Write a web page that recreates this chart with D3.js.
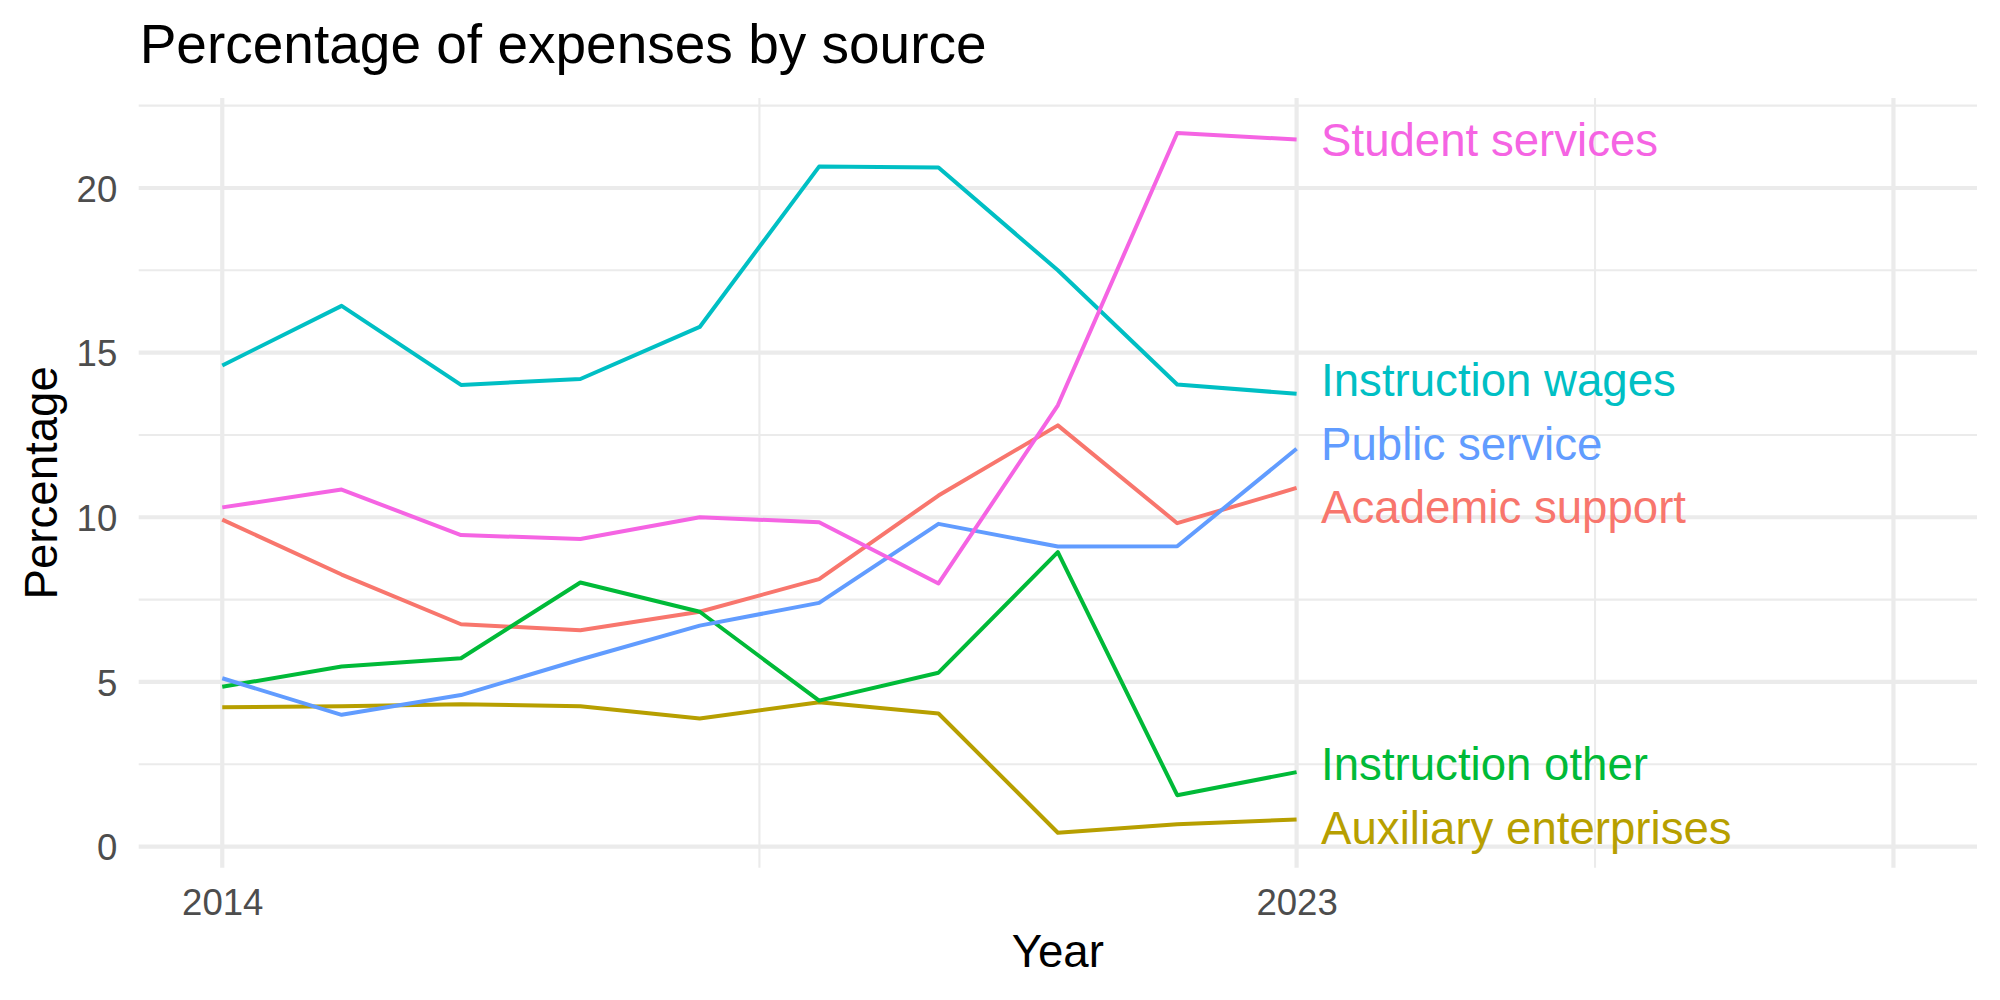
<!DOCTYPE html>
<html>
<head>
<meta charset="utf-8">
<script src="https://cdn.jsdelivr.net/npm/d3@7"></script>
<style>
  html, body { margin: 0; padding: 0; background: #ffffff; }
  svg { display: block; font-family: "Liberation Sans", Arial, Helvetica, sans-serif; }
</style>
</head>
<body>
<svg id="chart" width="2000" height="1000"></svg>
<script>
// ---------------- Data ----------------
const years = [2014, 2015, 2016, 2017, 2018, 2019, 2020, 2021, 2022, 2023];
const seriesNames = ["Academic support", "Auxiliary enterprises", "Instruction other",
                     "Instruction wages", "Public service", "Student services"];
const academicSupport      = [9.93, 8.26, 6.75, 6.57, 7.13, 8.12, 10.66, 12.79, 9.82, 10.89];
const auxiliaryEnterprises = [4.23, 4.26, 4.32, 4.26, 3.89, 4.38, 4.04, 0.42, 0.68, 0.82];
const instructionOther     = [4.85, 5.47, 5.72, 8.02, 7.13, 4.43, 5.28, 8.94, 1.56, 2.26];
const instructionWages     = [14.61, 16.42, 14.02, 14.20, 15.78, 20.65, 20.62, 17.50, 14.03, 13.75];
const publicService        = [5.11, 4.00, 4.60, 5.68, 6.71, 7.40, 9.80, 9.11, 9.12, 12.08];
const studentServices      = [10.30, 10.84, 9.46, 9.34, 10.00, 9.85, 7.99, 13.40, 21.67, 21.47];
const seriesColors = ["#F8766D", "#B79F00", "#00BA38", "#00BFC4", "#619CFF", "#F564E3"];

const xTickValues = [2014, 2023];
const xMajorGrid = [2014, 2023, 2028];
const xMinorGrid = [2018.5, 2025.5];
const xLimits = [2014, 2028];
const yTickValues = [0, 5, 10, 15, 20];
const yMinorGrid = [2.5, 7.5, 12.5, 17.5, 22.5];

const titleText = "Percentage of expenses by source";
const xTitle = "Year";
const yTitle = "Percentage";

// ---------------- Layout ----------------
const W = 2000, H = 1000;
const panel = { left: 138.7, right: 1977, top: 98, bottom: 867.7 };

const allSeries = [academicSupport, auxiliaryEnterprises, instructionOther,
                   instructionWages, publicService, studentServices];
const series = seriesNames.map((name, i) => ({
  name, color: seriesColors[i],
  values: years.map((yr, j) => ({ year: yr, value: allSeries[i][j] }))
}));

const xSpan = xLimits[1] - xLimits[0];
const x = d3.scaleLinear()
  .domain([xLimits[0] - 0.05 * xSpan, xLimits[1] + 0.05 * xSpan])
  .range([panel.left, panel.right]);

const allVals = allSeries.flat();
const [yMin, yMax] = d3.extent(allVals);
const ySpan = yMax - yMin;
const y = d3.scaleLinear()
  .domain([yMin - 0.05 * ySpan, yMax + 0.05 * ySpan])
  .range([panel.bottom, panel.top]);

const svg = d3.select("#chart");
svg.append("rect").attr("width", W).attr("height", H).attr("fill", "#ffffff");

const grid = svg.append("g");
const gridColor = "#EBEBEB";
// minor gridlines
grid.selectAll(".yminor").data(yMinorGrid).enter().append("line")
  .attr("x1", panel.left).attr("x2", panel.right)
  .attr("y1", d => y(d)).attr("y2", d => y(d))
  .attr("stroke", gridColor).attr("stroke-width", 2.1);
grid.selectAll(".xminor").data(xMinorGrid).enter().append("line")
  .attr("y1", panel.top).attr("y2", panel.bottom)
  .attr("x1", d => x(d)).attr("x2", d => x(d))
  .attr("stroke", gridColor).attr("stroke-width", 2.1);
// major gridlines
grid.selectAll(".ymajor").data(yTickValues).enter().append("line")
  .attr("x1", panel.left).attr("x2", panel.right)
  .attr("y1", d => y(d)).attr("y2", d => y(d))
  .attr("stroke", gridColor).attr("stroke-width", 4.2);
grid.selectAll(".xmajor").data(xMajorGrid).enter().append("line")
  .attr("y1", panel.top).attr("y2", panel.bottom)
  .attr("x1", d => x(d)).attr("x2", d => x(d))
  .attr("stroke", gridColor).attr("stroke-width", 4.2);

// axes (text only, like theme_minimal)
const xAxis = d3.axisBottom(x).tickValues(xTickValues).tickFormat(d3.format("d")).tickSize(0).tickPadding(0);
const gx = svg.append("g").attr("transform", `translate(0,${panel.bottom})`).call(xAxis);
gx.select(".domain").remove();
gx.selectAll("text").attr("font-size", 36.6).attr("fill", "#4D4D4D")
  .attr("font-family", "Liberation Sans, Arial, sans-serif")
  .attr("dy", null).attr("y", 47.5);

const yAxis = d3.axisLeft(y).tickValues(yTickValues).tickFormat(d3.format("d")).tickSize(0).tickPadding(0);
const gy = svg.append("g").attr("transform", `translate(${panel.left},0)`).call(yAxis);
gy.select(".domain").remove();
gy.selectAll("text").attr("font-size", 36.6).attr("fill", "#4D4D4D")
  .attr("font-family", "Liberation Sans, Arial, sans-serif")
  .attr("x", -21.4).attr("dy", "0.358em");

// lines
const line = d3.line().x(d => x(d.year)).y(d => y(d.value));
svg.append("g").selectAll("path").data(series).enter().append("path")
  .attr("d", d => line(d.values))
  .attr("fill", "none")
  .attr("stroke", d => d.color)
  .attr("stroke-width", 4)
  .attr("stroke-linejoin", "round")
  .attr("stroke-linecap", "butt");

// direct labels with simple repel
const lastYear = years[years.length - 1];
const spacing = 63.5;
const items = series.map(s => ({ name: s.name, color: s.color,
  y0: y(s.values[s.values.length - 1].value) })).sort((a, b) => a.y0 - b.y0);
let groups = items.map(it => ({ members: [it] }));
function place(g) {
  const c = d3.mean(g.members, m => m.y0);
  const n = g.members.length;
  g.members.forEach((m, i) => { m.y = c + (i - (n - 1) / 2) * spacing; });
}
groups.forEach(place);
let changed = true;
while (changed) {
  changed = false;
  for (let i = 0; i < groups.length - 1; i++) {
    const a = groups[i], b = groups[i + 1];
    const aLast = a.members[a.members.length - 1], bFirst = b.members[0];
    if (bFirst.y - aLast.y < spacing) {
      const merged = { members: a.members.concat(b.members) };
      place(merged);
      groups.splice(i, 2, merged);
      changed = true;
      break;
    }
  }
}
svg.append("g").selectAll("text").data(items).enter().append("text")
  .attr("x", x(lastYear) + 24.5)
  .attr("y", d => d.y)
  .attr("dy", "0.358em")
  .attr("font-size", 45.6)
  .attr("fill", d => d.color)
  .text(d => d.name);

// titles
svg.append("text").attr("x", panel.left + 1).attr("y", 63)
  .attr("font-size", 55).attr("fill", "#000").text(titleText);
svg.append("text").attr("x", (panel.left + panel.right) / 2).attr("y", 966.5)
  .attr("text-anchor", "middle").attr("font-size", 45.6).attr("fill", "#000").text(xTitle);
svg.append("text")
  .attr("transform", `translate(56.5,${(panel.top + panel.bottom) / 2}) rotate(-90)`)
  .attr("text-anchor", "middle").attr("font-size", 45.6).attr("fill", "#000").text(yTitle);
</script>
</body>
</html>
